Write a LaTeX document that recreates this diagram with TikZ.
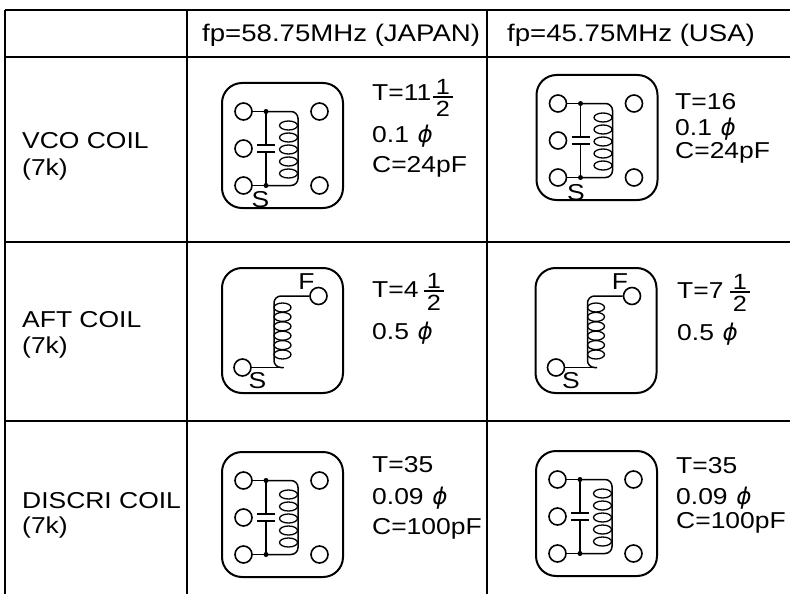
\documentclass[tikz,border=0pt]{standalone}
\usepackage{fontspec}
\setmainfont{Liberation Sans}[FakeStretch=1.15]
\newfontfamily\phifont{DejaVu Sans}[FakeSlant=0.2]
\usepackage{tikz}

\newcommand\phisign{{\phifont\symbol{"03D5}}}
% fraction 1/2 set after a number: centre x, bar y
\newcommand\halfmark[3]{%
  \node[frac,anchor=south] (#1n) at (#2,#3-2.5) {\fontsize{22}{24}\selectfont 1};
  \node[frac,anchor=north] (#1d) at (#2,#3+4) {\fontsize{22}{24}\selectfont 2};
  \draw[line width=1.5pt] (#2-10,#3) -- (#2+10,#3);}

\begin{document}
\begin{tikzpicture}[x=1pt,y=-1pt,
  rule/.style={line width=2.2pt},
  lbl/.style={inner sep=0pt,anchor=base west,font=\fontsize{23}{27}\selectfont},
  frac/.style={inner sep=0pt},
  pad/.style={circle,draw,line width=1.6pt,minimum size=17pt,inner sep=0pt},
  wire/.style={line width=1.5pt},
  turn/.style={line width=1.3pt},
  dot/.style={circle,fill,minimum size=5pt,inner sep=0pt},
  frame/.style={line width=2pt,rounded corners=20pt},
  tankcoil/.pic={
    \draw[frame] (-60.5,-62.5) rectangle (60.5,62.5);
    \node[pad] (-tl) at (-39,-34) {};
    \node[pad] (-ml) at (-39,3) {};
    \node[pad] (-bl) at (-39,40) {};
    \node[pad] (-tr) at (37,-34) {};
    \node[pad] (-br) at (37,40) {};
    \node[dot] (-jt) at (-16.5,-34) {};
    \node[dot] (-jb) at (-16.5,40) {};
    \draw[wire] (-tl) -- (-jt.center);
    \draw[wire] (-bl) -- (-jb.center);
    \draw[wire,rounded corners=7pt] (-jt.center) -- (15.5,-34) -- (15.5,40) -- (-jb.center);
    \draw[wire] (-jt.center) -- (-16.5,-0.5) (-16.5,6.5) -- (-jb.center);
    \draw[line width=2.8pt] (-25.5,-0.5) -- (-7.5,-0.5) (-25.5,6.5) -- (-7.5,6.5);
    \foreach \k in {0,...,4}
      \draw[turn] (6,-20+12*\k) ellipse [x radius=9,y radius=4.5];
  },
  aftcoil/.pic={
    \draw[frame] (-60.5,-62.5) rectangle (60.5,62.5);
    \node[pad] (-f) at (36,-34.5) {};
    \node[pad] (-s) at (-40,37) {};
    \draw[wire,rounded corners=7pt] (-f) -- (-8.5,-34.5) -- (-8.5,37) -- (1,37);
    \draw[wire] (-s) -- (1,37);
    \foreach \k in {0,...,5}
      \draw[turn] (0,-23+9.4*\k) ellipse [x radius=8.5,y radius=4.5];
    \node[lbl,anchor=center] (-F) at (24,-48.5) {F};
    \node[lbl,anchor=center] (-S) at (-25,50) {S};
  }]
\useasboundingbox (0,0) rectangle (790,594);

% table rules
\foreach \y in {10,57,242,421}
  \draw[rule] (5,\y) -- (790,\y);
\foreach \x in {5,187,487}
  \draw[rule] (\x,10) -- (\x,594);

% headings
\node[lbl,font=\fontsize{24}{28}\selectfont] (hjp) at (202,42) {fp=58.75MHz (JAPAN)};
\node[lbl,font=\fontsize{24}{28}\selectfont] (hus) at (507,42) {fp=45.75MHz (USA)};

\node[lbl] (vco1) at (22,148) {VCO COIL};
\node[lbl] (vco2) at (22,175) {(7k)};
\node[lbl] (aft1) at (22,327) {AFT COIL};
\node[lbl] (aft2) at (22,353) {(7k)};
\node[lbl] (dis1) at (22,508) {DISCRI COIL};
\node[lbl] (dis2) at (22,533) {(7k)};

% VCO coil
\pic (jv) at (282.5,145.5) {tankcoil};
\node[lbl,anchor=center] (jvS) at ([shift={(17,14)}]jv-bl) {S};
\node[lbl] (jvT) at (372,100) {T=11};
\halfmark{jvh}{443}{97}
\node[lbl] (jvD) at (372,142) {0.1 \phisign};
\node[lbl] (jvC) at (372,172) {C=24pF};

\pic (uv) at (597,137.5) {tankcoil};
\node[lbl,anchor=center] (uvS) at ([shift={(18,15)}]uv-bl) {S};
\node[lbl] (uvT) at (675,110) {T=16};
\node[lbl] (uvD) at (675,135) {0.1 \phisign};
\node[lbl] (uvC) at (675,158) {C=24pF};

% AFT coil
\pic (ja) at (282.5,330.5) {aftcoil};
\node[lbl] (jaT) at (372,297) {T=4};
\halfmark{jah}{434}{291}
\node[lbl] (jaD) at (372,339) {0.5 \phisign};

\pic (ua) at (596,330.5) {aftcoil};
\node[lbl] (uaT) at (677,298) {T=7};
\halfmark{uah}{740}{292}
\node[lbl] (uaD) at (677,340) {0.5 \phisign};

% DISCRI coil
\pic (jd) at (282.5,514.5) {tankcoil};
\node[lbl] (jdT) at (372,472) {T=35};
\node[lbl] (jdD) at (372,504) {0.09 \phisign};
\node[lbl] (jdC) at (372,534) {C=100pF};

\pic (ud) at (596.5,513.5) {tankcoil};
\node[lbl] (udT) at (676,473) {T=35};
\node[lbl] (udD) at (676,504) {0.09 \phisign};
\node[lbl] (udC) at (676,528) {C=100pF};
\end{tikzpicture}
\end{document}
